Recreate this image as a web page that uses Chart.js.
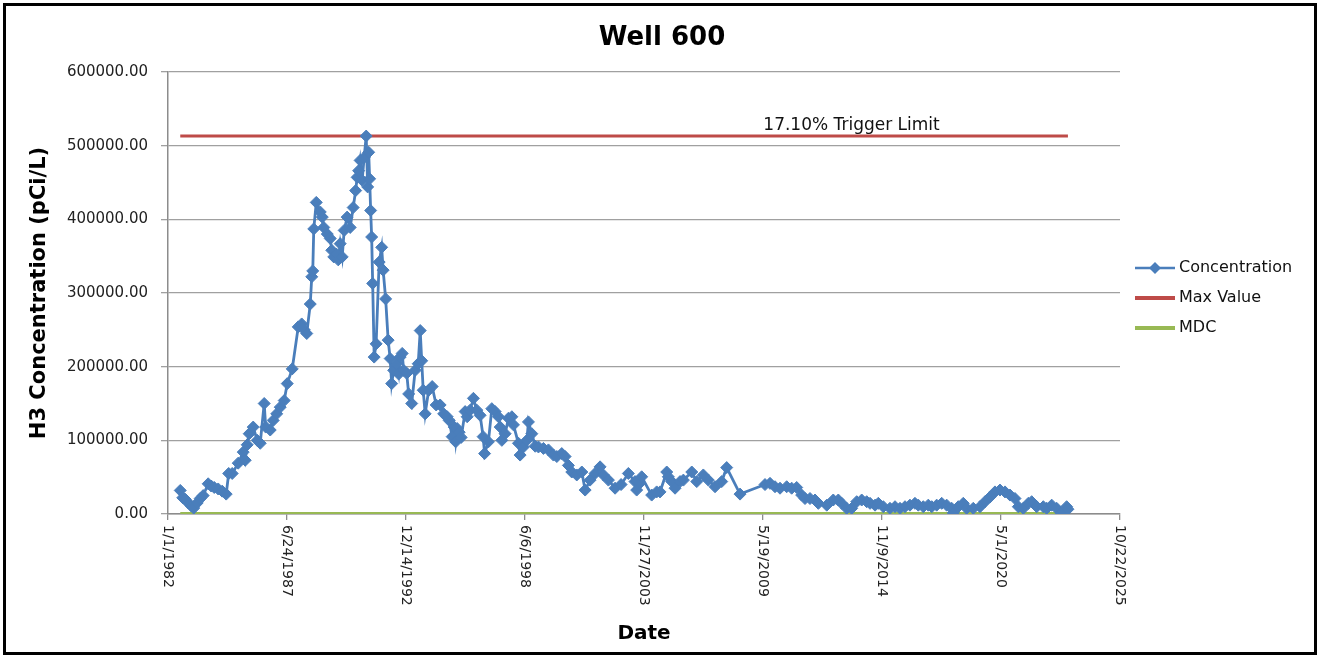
<!DOCTYPE html>
<html>
<head>
<meta charset="utf-8">
<title>Well 600</title>
<script src="https://cdn.jsdelivr.net/npm/chart.js@4.4.1/dist/chart.umd.min.js"></script>
<style>
    html, body { margin: 0; padding: 0; background: #fff; }
    #wrap { width: 1320px; height: 658px; }
</style>
</head>
<body>
<div id="wrap"><canvas id="well-chart" width="1320" height="658"></canvas></div>
<script>
// Sample dates and H3 concentrations in pCi/L
const sampleDates = [
    '1982-07-26','1982-09-06','1982-10-18','1982-12-08','1983-01-27','1983-03-09','1983-05-07','1983-06-26','1983-08-15','1983-11-07','1983-12-28',
    '1984-02-17','1984-04-24','1984-06-30','1984-09-05','1984-10-17','1984-12-15',
    '1985-03-26','1985-06-18','1985-07-22','1985-08-24','1985-09-27','1985-12-03',
    '1986-02-09','1986-03-31','1986-06-06','1986-07-01','1986-09-15','1986-11-04',
    '1987-01-02','1987-03-02','1987-05-08','1987-06-28','1987-09-20','1987-12-30',
    '1988-02-26','1988-04-09','1988-05-21','1988-07-19','1988-08-13','1988-08-30','1988-09-16','1988-10-28',
    '1989-01-03','1989-02-06','1989-03-03','1989-05-01','1989-06-20','1989-07-15','1989-08-18','1989-09-29','1989-11-01','1989-12-04',
    '1990-01-07','1990-02-09','1990-03-31','1990-05-21','1990-07-10','1990-08-21','1990-09-15','1990-10-10','1990-11-04','1990-12-08',
    '1991-01-11','1991-02-14','1991-03-11','1991-03-28','1991-04-13','1991-04-30','1991-05-17','1991-06-03','1991-06-28','1991-07-31','1991-09-20','1991-11-01','1991-11-26',
    '1992-01-07','1992-02-18','1992-03-23','1992-04-17','1992-05-21','1992-07-10','1992-08-13','1992-09-07','1992-10-11','1992-11-05','1992-12-26',
    '1993-01-28','1993-03-20','1993-05-17','1993-07-07','1993-08-10','1993-09-04','1993-09-29','1993-11-01','1993-12-30',
    '1994-02-27','1994-05-05','1994-07-11','1994-09-08','1994-11-06','1994-12-10',
    '1995-01-29','1995-03-04','1995-03-29','1995-04-23','1995-05-27','1995-06-29','1995-09-04','1995-10-08','1995-11-27',
    '1996-01-21','1996-03-18','1996-05-13','1996-07-02','1996-07-27','1996-09-29','1996-11-25',
    '1997-01-20','1997-03-17','1997-04-15','1997-05-13','1997-07-07','1997-09-01','1997-10-28','1997-11-24',
    '1998-02-16','1998-03-16','1998-05-11','1998-07-07','1998-08-03','1998-09-29','1998-11-24',
    '1999-01-18','1999-04-12','1999-07-05','1999-09-27','1999-11-23',
    '2000-02-14','2000-04-10','2000-06-04','2000-07-31','2000-10-23',
    '2001-01-16','2001-03-13','2001-06-04','2001-08-27','2001-11-19',
    '2002-01-14','2002-04-08','2002-07-29','2002-11-07',
    '2003-03-09','2003-06-29','2003-07-27','2003-09-21','2003-10-19',
    '2004-04-04','2004-06-27','2004-08-22','2004-12-13',
    '2005-01-09','2005-03-07','2005-05-02','2005-07-25','2005-09-19',
    '2006-02-07','2006-05-02','2006-08-20','2006-11-12',
    '2007-03-05','2007-06-25','2007-09-17',
    '2008-04-28',
    '2009-06-22','2009-09-14','2009-12-07',
    '2010-03-01','2010-06-21','2010-09-13','2010-12-06',
    '2011-02-28','2011-04-25','2011-07-18','2011-10-10','2011-12-05',
    '2012-04-25','2012-08-12','2012-11-05',
    '2013-01-01','2013-03-26','2013-06-18','2013-09-10','2013-12-03',
    '2014-02-25','2014-04-22','2014-07-15','2014-09-08','2014-12-01',
    '2015-03-23','2015-06-16','2015-09-08','2015-12-01',
    '2016-02-22','2016-05-16','2016-07-11','2016-10-03','2016-12-26',
    '2017-02-22','2017-05-16','2017-08-08','2017-10-31',
    '2018-01-23','2018-02-19','2018-05-14','2018-08-06','2018-10-02',
    '2019-01-21','2019-05-14','2019-08-06','2019-10-29',
    '2020-01-21','2020-04-14','2020-07-07','2020-09-29','2020-12-22',
    '2021-02-16','2021-05-11','2021-08-03','2021-09-29','2021-12-22',
    '2022-04-12','2022-06-08','2022-08-31','2022-11-23',
    '2023-02-14','2023-05-09','2023-05-31'
];

const concentration = [
    32000,22000,20000,15000,11000,8000,15000,21000,25000,41000,38000,
    36000,34000,31000,27000,55000,55000,
    69000,84000,73000,94000,109000,118000,
    100000,96000,150000,118000,114000,127000,
    136000,145000,154000,177000,197000,254000,
    258000,250000,245000,285000,322000,330000,387000,423000,
    410000,403000,389000,380000,374000,358000,349000,353000,345000,367000,
    349000,385000,403000,389000,416000,439000,457000,466000,480000,453000,
    484000,513000,444000,491000,455000,412000,376000,313000,213000,231000,342000,362000,331000,
    292000,236000,211000,177000,195000,204000,190000,213000,218000,195000,191000,
    163000,150000,195000,204000,249000,208000,168000,136000,168000,
    173000,148000,148000,136000,132000,127000,
    105000,118000,98000,116000,111000,104000,139000,132000,141000,
    157000,141000,134000,105000,82000,98000,143000,
    139000,132000,118000,100000,109000,130000,132000,121000,
    96000,80000,91000,100000,125000,109000,92000,
    91000,89000,87000,80000,78000,
    82000,78000,66000,57000,53000,
    57000,32500,46000,55000,64000,
    53000,46000,35000,40000,
    55000,44000,32500,42000,50500,
    25700,30000,30000,57000,
    50500,44000,35000,44000,46000,
    57000,44000,53000,46000,
    37000,44000,63000,
    27000,
    40000,41600,37000,
    35000,37000,35000,36000,
    25700,21000,21000,19000,14500,
    12000,19000,19000,
    14500,7700,7700,16700,19000,
    16700,14500,12000,14500,9900,
    7700,9900,7700,9900,
    12000,14500,12000,9900,12000,
    9900,12000,14500,12000,
    7700,1500,9900,14500,7700,
    7700,9900,16700,23000,
    30000,32500,30000,25700,21000,
    9900,7700,14500,16700,9900,
    9900,7700,12000,7700,
    1000,9900,6500
];

const maxValue = 513000;      // Max Value line
const mdcValue = 700;         // MDC line
const triggerLabel = '17.10% Trigger Limit';

// x axis runs in days from 1/1/1982, Excel style major unit of 2000 days
const axisStartDate = '1982-01-01';
const axisEndDay = 16000;
const axisStepDays = 2000;

const yMax = 600000;
const yStep = 100000;

const FONT = "'DejaVu Sans', sans-serif";
const BLUE = '#4A7EBB';
const RED = '#BE4B48';
const GREEN = '#98B954';

function dayOf(iso) {
    const [y, m, d] = iso.split('-').map(Number);
    const [y0, m0, d0] = axisStartDate.split('-').map(Number);
    return (Date.UTC(y, m - 1, d) - Date.UTC(y0, m0 - 1, d0)) / 864e5;
}

function dateLabel(days) {
    const [y0, m0, d0] = axisStartDate.split('-').map(Number);
    const dt = new Date(Date.UTC(y0, m0 - 1, d0) + days * 864e5);
    return (dt.getUTCMonth() + 1) + '/' + dt.getUTCDate() + '/' + dt.getUTCFullYear();
}

const concentrationPoints = sampleDates.map((d, i) => ({ x: dayOf(d), y: concentration[i] }));
const firstDay = dayOf(sampleDates[0]);
const lastDay = dayOf(sampleDates[sampleDates.length - 1]);

// Frame, title, downward x labels, trigger text and the legend on the right
const chartDecor = {
    id: 'chartDecor',
    afterDraw(chart) {
        const ctx = chart.ctx;
        const xs = chart.scales.x;
        const ys = chart.scales.y;
        const area = chart.chartArea;
        ctx.save();

        ctx.strokeStyle = '#000';
        ctx.lineWidth = 3;
        ctx.strokeRect(4.5, 4.5, chart.width - 9, chart.height - 9);

        ctx.fillStyle = '#000';
        ctx.font = 'bold 26px ' + FONT;
        ctx.textAlign = 'center';
        ctx.textBaseline = 'middle';
        ctx.fillText('Well 600', chart.width / 2 + 2, 38);

        ctx.font = '14px ' + FONT;
        ctx.fillStyle = '#222';
        ctx.textAlign = 'left';
        xs.ticks.forEach(t => {
            const px = xs.getPixelForValue(t.value);
            ctx.save();
            ctx.translate(px, area.bottom + 11);
            ctx.rotate(Math.PI / 2);
            ctx.fillText(dateLabel(t.value), 0, 0);
            ctx.restore();
        });

        ctx.font = '17px ' + FONT;
        ctx.fillStyle = '#111';
        ctx.textAlign = 'center';
        ctx.textBaseline = 'alphabetic';
        ctx.fillText(triggerLabel, area.left + (area.right - area.left) * 0.718, ys.getPixelForValue(maxValue) - 6.5);

        // legend
        const lx = area.right + 15;
        ctx.font = '16px ' + FONT;
        ctx.textAlign = 'left';
        ctx.textBaseline = 'middle';
        chart.data.datasets.forEach((ds, i) => {
            const ly = 268 + i * 30;
            ctx.strokeStyle = ds.borderColor;
            ctx.lineWidth = i === 0 ? 2.5 : 4;
            ctx.beginPath();
            ctx.moveTo(lx, ly);
            ctx.lineTo(lx + 40, ly);
            ctx.stroke();
            if (i === 0) {
                ctx.fillStyle = ds.borderColor;
                ctx.beginPath();
                ctx.moveTo(lx + 20 - 6, ly);
                ctx.lineTo(lx + 20, ly - 6);
                ctx.lineTo(lx + 20 + 6, ly);
                ctx.lineTo(lx + 20, ly + 6);
                ctx.closePath();
                ctx.fill();
            }
            ctx.fillStyle = '#111';
            ctx.fillText(ds.label, lx + 44, ly);
        });

        ctx.restore();
    }
};

const ctx = document.getElementById('well-chart').getContext('2d');
const wellChart = new Chart(ctx, {
    type: 'line',
    data: {
        datasets: [{
            label: 'Concentration',
            data: concentrationPoints,
            borderColor: BLUE,
            backgroundColor: BLUE,
            borderWidth: 2.8,
            pointStyle: 'rectRot',
            pointRadius: 6,
            pointBorderWidth: 1,
            pointBackgroundColor: BLUE,
            pointBorderColor: BLUE,
            tension: 0
        }, {
            label: 'Max Value',
            data: [{ x: firstDay, y: maxValue }, { x: lastDay, y: maxValue }],
            borderColor: RED,
            borderWidth: 3,
            pointRadius: 0
        }, {
            label: 'MDC',
            data: [{ x: firstDay, y: mdcValue }, { x: lastDay, y: mdcValue }],
            borderColor: GREEN,
            borderWidth: 3,
            pointRadius: 0
        }]
    },
    options: {
        responsive: false,
        animation: false,
        devicePixelRatio: 1,
        layout: { padding: { left: 23, right: 200, top: 72, bottom: 8 } },
        plugins: {
            legend: { display: false },
            title: { display: false },
            tooltip: { enabled: false }
        },
        scales: {
            x: {
                type: 'linear',
                min: 0,
                max: axisEndDay,
                ticks: {
                    stepSize: axisStepDays,
                    color: 'rgba(0,0,0,0)',
                    minRotation: 90,
                    maxRotation: 90,
                    autoSkip: false,
                    callback: v => dateLabel(v)
                },
                grid: { drawOnChartArea: false, drawTicks: true, tickLength: 6, color: '#8c8c8c', lineWidth: 1.3 },
                border: { color: '#8c8c8c', width: 1.5 },
                title: {
                    display: true,
                    text: 'Date',
                    color: '#000',
                    font: { family: FONT, size: 20, weight: 'bold' },
                    padding: { top: 4, bottom: 4 }
                },
                afterFit: scale => { scale.height = 136; }
            },
            y: {
                min: 0,
                max: yMax,
                ticks: {
                    stepSize: yStep,
                    padding: 13,
                    color: '#222',
                    font: { family: FONT, size: 15 },
                    callback: v => v.toFixed(2)
                },
                grid: { color: '#a0a0a0', lineWidth: 1.3, tickLength: 7 },
                border: { color: '#8c8c8c', width: 1.5 },
                title: {
                    display: true,
                    text: 'H3 Concentration (pCi/L)',
                    color: '#000',
                    font: { family: FONT, size: 21, weight: 'bold' },
                    padding: { top: 4, bottom: 4 }
                },
                afterFit: scale => { scale.width = 145; }
            }
        }
    },
    plugins: [chartDecor]
});
</script>
</body>
</html>
